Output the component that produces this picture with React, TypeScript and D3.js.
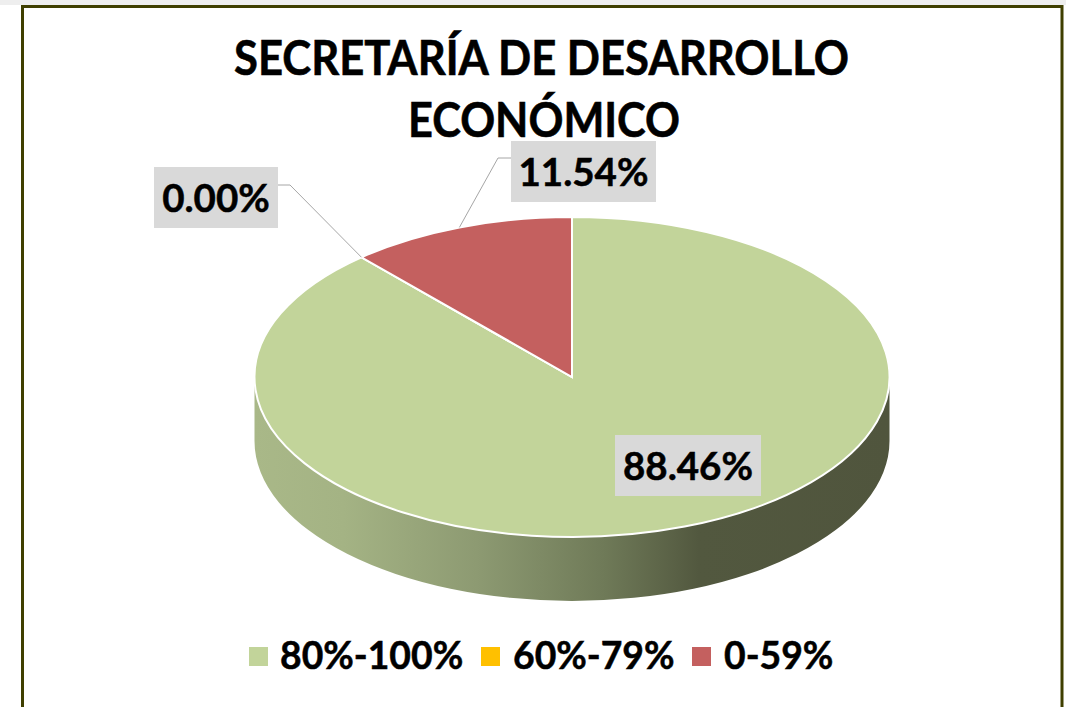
import React from 'react';
import * as d3 from 'd3';

const categories = ['80%-100%', '60%-79%', '0-59%'];
const values = [88.46, 0, 11.54];
const colors = ['#c2d49a', '#ffc000', '#c4605f'];
const titleLines = ['SECRETARÍA DE DESARROLLO', 'ECONÓMICO'];

const width = 1066;
const height = 707;
const cx = 572;
const cy = 377;
const rx = 317.5;
const ry = 160;
const depth = 64;
const font = 'Lato, Carlito, Calibri, sans-serif';

// title is narrower than Lato, so squeeze each line to the measured width
const titleLayout = [
  { x: 541.5, y: 75, w: 615 },
  { x: 544, y: 137, w: 272 },
];
// label boxes, same order as values
const labelBoxes = [
  { x: 615, y: 435, w: 146, h: 61 },
  { x: 154, y: 167, w: 124, h: 61 },
  { x: 511, y: 141, w: 145, h: 61 },
];
const legendItems = [
  { swatch: 249, text: 280 },
  { swatch: 481, text: 513 },
  { swatch: 692, text: 724 },
];

const pie = d3.pie<number>().sort(null).value(d => d);
const arcs = pie(values);
const arc = d3.arc<d3.PieArcDatum<number>>().innerRadius(0).outerRadius(rx);

// point on the top ellipse for a pie angle
const rimPoint = (angle: number) => [
  cx + Math.sin(angle) * rx,
  cy - Math.cos(angle) * ry,
];

const leader = (i: number, elbowX: number, boxEdge: number, y: number) => {
  const [px, py] = rimPoint((arcs[i].startAngle + arcs[i].endAngle) / 2);
  return d3.line()([[px, py], [elbowX, y], [boxEdge, y]]) as string;
};

const App = () => {
  const side = `M${cx - rx},${cy} A${rx},${ry} 0 0 0 ${cx + rx},${cy} L${cx + rx},${cy + depth} A${rx},${ry} 0 0 1 ${cx - rx},${cy + depth} Z`;

  return (
    <svg
      width={width}
      height={height}
      style={{ position: 'absolute', left: 0, top: 0, background: '#fff' }}
    >
      <defs>
        <linearGradient id="sideFill" gradientUnits="userSpaceOnUse" x1={cx - rx} x2={cx + rx} y1={0} y2={0}>
          <stop offset="0" stopColor="#a9b888" />
          <stop offset="0.14" stopColor="#a4b384" />
          <stop offset="0.35" stopColor="#8d9a72" />
          <stop offset="0.55" stopColor="#6f7a58" />
          <stop offset="0.7" stopColor="#52583f" />
          <stop offset="1" stopColor="#50553d" />
        </linearGradient>
      </defs>

      <rect x={0} y={0} width={width} height={5} fill="#eeeeee" />
      <path
        d={`M22.5,${height} V6.5 H1062 V${height}`}
        fill="none"
        stroke="#3f3f00"
        strokeWidth={3}
      />

      {titleLines.map((line, i) => (
        <text
          key={line}
          x={titleLayout[i].x - titleLayout[i].w / 2}
          y={titleLayout[i].y}
          textLength={titleLayout[i].w}
          lengthAdjust="spacingAndGlyphs"
          fontFamily={font}
          fontWeight={700}
          fontSize={47.5}
          fill="#000"
          stroke="#000"
          strokeWidth={0.6}
        >
          {line}
        </text>
      ))}

      <path d={side} fill="url(#sideFill)" />
      <g transform={`translate(${cx},${cy}) scale(1,${ry / rx})`}>
        {arcs.map((d, i) => (
          <path
            key={categories[i]}
            d={arc(d) as string}
            fill={colors[i]}
            stroke="#fff"
            strokeWidth={2}
            vectorEffect="non-scaling-stroke"
          />
        ))}
      </g>

      <path d={leader(1, 290, 278, 185)} fill="none" stroke="#a6a6a6" strokeWidth={1} />
      <path d={leader(2, 498, 511, 158)} fill="none" stroke="#a6a6a6" strokeWidth={1} />

      {values.map((v, i) => {
        const b = labelBoxes[i];
        return (
          <g key={categories[i]}>
            <rect x={b.x} y={b.y} width={b.w} height={b.h} fill="#d9d9d9" />
            <text
              x={b.x + b.w / 2}
              y={b.y + 44.5}
              textAnchor="middle"
              fontFamily={font}
              fontWeight={700}
              fontSize={38.5}
              fill="#000"
              stroke="#000"
              strokeWidth={0.5}
            >
              {d3.format('.2f')(v)}%
            </text>
          </g>
        );
      })}

      {categories.map((c, i) => (
        <g key={c}>
          <rect x={legendItems[i].swatch} y={647} width={19} height={19} fill={colors[i]} />
          <text
            x={legendItems[i].text}
            y={669}
            fontFamily={font}
            fontWeight={700}
            fontSize={37.3}
            fill="#000"
            stroke="#000"
            strokeWidth={0.5}
          >
            {c}
          </text>
        </g>
      ))}
    </svg>
  );
};

export default App;
